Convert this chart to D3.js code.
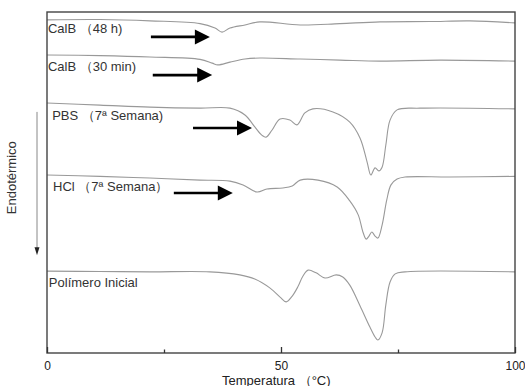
<!DOCTYPE html>
<html>
<head>
<meta charset="utf-8">
<script src="https://cdn.jsdelivr.net/npm/d3@7/dist/d3.min.js"></script>
<style>
  body { margin: 0; background: #fff; }
  svg { display: block; font-family: "Liberation Sans", Arial, sans-serif; }
  .curve { fill: none; stroke: #999; stroke-width: 1.1; }
  .lbl { fill: #333; font-size: 13px; }
</style>
</head>
<body>
<div id="chart"></div>
<script>
'use strict';

// DSC thermograms (temperature in °C, heat flow in arbitrary offset units)
var seriesNames = ['CalB （48 h)', 'CalB （30 min)', 'PBS （7ª Semana)', 'HCl （7ª Semana）', 'Polímero Inicial'];

var tempCalB48 = [0, 11.3, 22, 32.7, 35.9, 37.4, 39.1, 42.3, 45.5, 54.1, 62.6, 71.2, 81.8, 90.4, 100];
var flowCalB48 = [97.7, 97.8, 97.4, 96.6, 95.3, 94.1, 95.3, 96.2, 97.1, 96.2, 96.6, 97.1, 97.2, 97.4, 96.8];

var tempCalB30 = [0, 11.3, 22, 32.7, 35.3, 36.5, 39.1, 42.3, 45.5, 54.1, 62.6, 71.2, 84, 100];
var flowCalB30 = [87.4, 87.2, 86.8, 86.1, 85.0, 84.5, 85.3, 86.2, 86.5, 86.2, 85.9, 85.6, 85.9, 85.6];

var tempPBS = [0, 11.3, 22, 32.7, 39.1, 42.3, 44.4, 45.9, 46.8, 48.1, 49.8, 51.9, 53.4, 55.1, 56.8, 61.1, 64.7, 66.9, 68.4, 69.2, 70.1, 70.9, 71.6, 72.4, 73.3, 74.8, 79.7, 100];
var flowPBS = [73.3, 72.7, 72.1, 71.8, 71.8, 69.8, 66.3, 63.9, 63.3, 65.4, 68.6, 68.3, 66.9, 70.4, 71.6, 70.7, 67.7, 63.0, 56.0, 52.2, 54.3, 53.4, 54.5, 61.0, 68.3, 71.3, 71.8, 71.6];

var tempHCl = [0, 11.3, 22, 32.7, 39.1, 41.9, 44.9, 47, 50.4, 52.4, 54.1, 57.9, 62, 64.7, 66.5, 67.5, 68.2, 68.8, 69.4, 70.1, 70.7, 71.6, 72.6, 73.5, 74.8, 76.5, 86.1, 100];
var flowHCl = [52.2, 51.8, 51.3, 50.7, 50.4, 49.3, 47.2, 48.1, 48.4, 49.0, 50.7, 50.7, 48.7, 44.6, 40.5, 35.5, 33.4, 34.3, 35.5, 34.3, 33.7, 37.5, 44.9, 49.3, 51.0, 51.6, 51.6, 51.8];

var tempInicial = [0, 11.3, 22, 34.8, 41.2, 44.4, 47.6, 49.8, 51.1, 52.4, 53.6, 54.7, 55.8, 57.5, 59.4, 61.8, 63.2, 64.7, 66.9, 69, 70.1, 70.7, 71.6, 72.4, 73.3, 74.4, 76.5, 100];
var flowInicial = [24.0, 23.9, 23.8, 23.8, 22.9, 21.7, 19.1, 16.4, 15.0, 16.7, 19.4, 22.6, 24.3, 23.5, 22.0, 22.9, 22.3, 19.9, 13.8, 7.6, 4.7, 3.8, 5.9, 14.1, 20.8, 23.2, 23.8, 23.8];

// label anchors (temperature, flow) and arrow annotations (from temp, to temp, flow)
var labelTemp = [0.2, 0.2, 1.1, 1.3, 0.4];
var labelFlow = [93.8, 82.7, 68.3, 47.5, 19.4];
var arrowFrom = [22.2, 22.6, 31.2, 27.1];
var arrowTo = [34.8, 35.3, 43.8, 39.7];
var arrowFlow = [92.7, 81.5, 66.0, 46.9];

var majorTicks = [0, 50, 100];
var minorTicks = [25, 75];

var margin = {top: 12, right: 10, bottom: 33, left: 47};
var width = 525 - margin.left - margin.right;
var height = 386 - margin.top - margin.bottom;

var svg = d3.select('#chart').append('svg')
  .attr('width', 525)
  .attr('height', 386);

var g = svg.append('g')
  .attr('transform', 'translate(' + margin.left + ',' + margin.top + ')');

var x = d3.scaleLinear().domain([0, 100]).range([0, width]);
var y = d3.scaleLinear().domain([0, 100]).range([height, 0]);

var line = d3.line()
  .x(function(d) { return x(d[0]); })
  .y(function(d) { return y(d[1]); })
  .curve(d3.curveCatmullRom.alpha(0.5));

var curves = [
  d3.zip(tempCalB48, flowCalB48),
  d3.zip(tempCalB30, flowCalB30),
  d3.zip(tempPBS, flowPBS),
  d3.zip(tempHCl, flowHCl),
  d3.zip(tempInicial, flowInicial)
];

g.selectAll('.curve')
  .data(curves)
  .enter().append('path')
  .attr('class', 'curve')
  .attr('d', line);

g.selectAll('.lbl')
  .data(seriesNames)
  .enter().append('text')
  .attr('class', 'lbl')
  .attr('x', function(d, i) { return x(labelTemp[i]); })
  .attr('y', function(d, i) { return y(labelFlow[i]); })
  .text(function(d) { return d; });

// black arrows pointing to the transitions
var headLen = 15, headHalf = 7.5;
arrowFrom.forEach(function(t0, i) {
  var x0 = x(t0), x1 = x(arrowTo[i]), yy = y(arrowFlow[i]);
  g.append('line')
    .attr('x1', x0).attr('x2', x1 - headLen + 1)
    .attr('y1', yy).attr('y2', yy)
    .attr('stroke', '#000')
    .attr('stroke-width', 2.6);
  g.append('path')
    .attr('d', 'M' + x1 + ',' + yy + 'L' + (x1 - headLen) + ',' + (yy - headHalf) + 'L' + (x1 - headLen) + ',' + (yy + headHalf) + 'Z')
    .attr('fill', '#000');
});

// frame
g.append('rect')
  .attr('width', width)
  .attr('height', height)
  .attr('fill', 'none')
  .attr('stroke', '#444')
  .attr('stroke-width', 1.4);

// x axis, ticks pointing inward
var axisMajor = g.append('g')
  .attr('transform', 'translate(0,' + height + ')')
  .call(d3.axisBottom(x).tickValues(majorTicks).tickSize(-6).tickPadding(8).tickFormat(d3.format('d')));
var axisMinor = g.append('g')
  .attr('transform', 'translate(0,' + height + ')')
  .call(d3.axisBottom(x).tickValues(minorTicks).tickSize(-3.5).tickFormat(''));

[axisMajor, axisMinor].forEach(function(a) {
  a.select('.domain').remove();
  a.selectAll('line').attr('stroke', '#333').attr('stroke-width', 1.3);
});
axisMajor.selectAll('text')
  .attr('font-family', '"Liberation Sans", Arial, sans-serif')
  .attr('font-size', 12)
  .attr('fill', '#222');

g.append('text')
  .attr('x', x(49))
  .attr('y', height + 31.5)
  .attr('text-anchor', 'middle')
  .attr('font-size', 13)
  .attr('fill', '#222')
  .text('Temperatura （°C)');

// y label with downward "endothermic" arrow
g.append('text')
  .attr('transform', 'translate(' + (x(0) - 31) + ',' + y(51.4) + ') rotate(-90)')
  .attr('text-anchor', 'middle')
  .attr('font-size', 13)
  .attr('fill', '#333')
  .text('Endotérmico');

var ax = x(0) - 10;
g.append('line')
  .attr('x1', ax).attr('x2', ax)
  .attr('y1', y(70.7)).attr('y2', y(30))
  .attr('stroke', '#888')
  .attr('stroke-width', 1);
g.append('path')
  .attr('d', 'M' + ax + ',' + y(28.7) + 'L' + (ax - 2.5) + ',' + (y(28.7) - 8) + 'L' + (ax + 2.5) + ',' + (y(28.7) - 8) + 'Z')
  .attr('fill', '#222');
</script>
</body>
</html>
